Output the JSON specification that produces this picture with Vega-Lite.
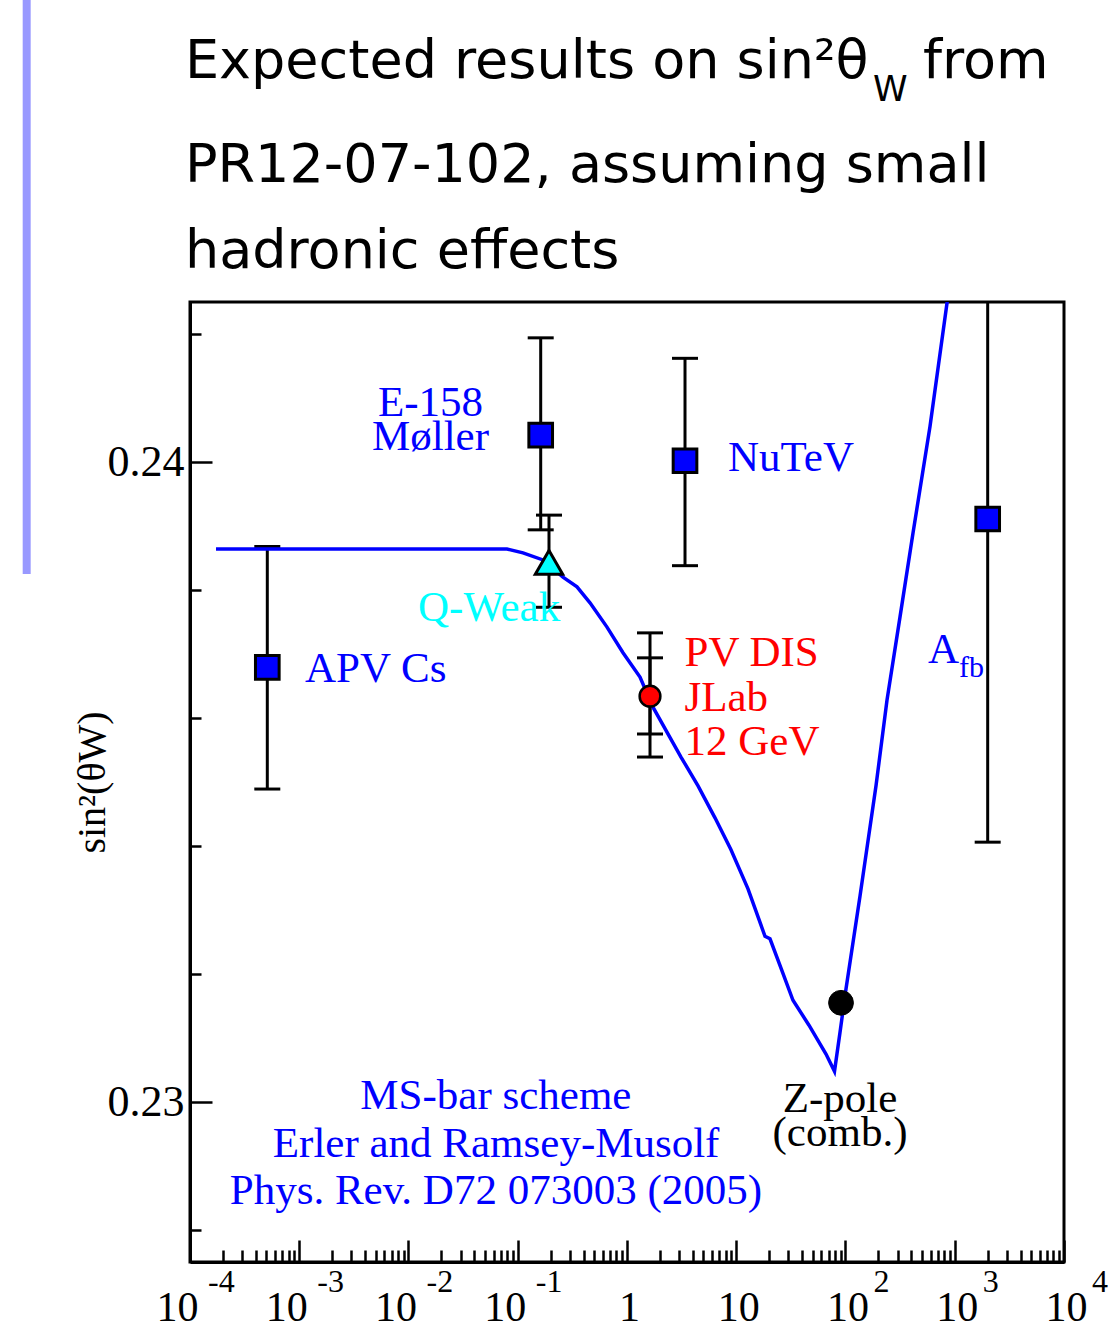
{
  "$schema": "https://vega.github.io/schema/vega-lite/v6.json",
  "width": 874,
  "height": 960,
  "autosize": {"type": "none"},
  "padding": {"left": 190, "top": 302, "right": 52, "bottom": 71},
  "background": "white",
  "config": {"view": {"stroke": "black", "strokeWidth": 3}},
  "encoding": {
    "x": {
      "field": "q", "type": "quantitative",
      "scale": {"type": "log", "domain": [0.0001, 10000], "nice": false},
      "axis": {
        "values": [0.0001,0.0002,0.0003,0.0004,0.0005,0.0006,0.0007,0.0008,0.0009,0.001,0.002,0.003,0.004,0.005,0.006,0.007,0.008,0.009,0.01,0.02,0.03,0.04,0.05,0.06,0.07,0.08,0.09,0.1,0.2,0.3,0.4,0.5,0.6,0.7,0.8,0.9,1,2,3,4,5,6,7,8,9,10,20,30,40,50,60,70,80,90,100,200,300,400,500,600,700,800,900,1000,2000,3000,4000,5000,6000,7000,8000,9000,10000],
        "labelExpr": "abs(log(datum.value)/LN10 - round(log(datum.value)/LN10)) < 0.000001 ? (abs(datum.value - 1) < 0.000001 ? '1' : '10') : ''",
        "tickSize": {"condition": {"test": "abs(log(datum.value)/LN10 - round(log(datum.value)/LN10)) < 0.000001", "value": -22}, "value": -12},
        "labelOffset": {"condition": {"test": "datum.value < 0.5", "value": -13}, "value": 2},
        "labelFont": "Liberation Serif", "labelFontSize": 42, "labelColor": "black",
        "labelPadding": 47, "labelBaseline": "top", "labelAngle": 0,
        "labelOverlap": false, "labelFlush": false, "labelBound": false,
        "tickColor": "black", "tickWidth": 2.5, "domainColor": "black", "domainWidth": 3,
        "grid": false, "title": null
      }
    },
    "y": {
      "field": "s", "type": "quantitative",
      "scale": {"domain": [0.2275, 0.2425], "nice": false, "zero": false},
      "axis": {
        "values": [0.228, 0.23, 0.232, 0.234, 0.236, 0.238, 0.24, 0.242],
        "labelExpr": "abs(datum.value - 0.23) < 0.000001 ? '0.23' : (abs(datum.value - 0.24) < 0.000001 ? '0.24' : '')",
        "tickSize": {"condition": {"test": "abs(datum.value - 0.23) < 0.000001 || abs(datum.value - 0.24) < 0.000001", "value": -22}, "value": -11},
        "labelFont": "Liberation Serif", "labelFontSize": 44, "labelColor": "black",
        "labelPadding": 28, "labelOverlap": false, "labelBound": false, "labelFlush": false,
        "tickColor": "black", "tickWidth": 2.5, "domainColor": "black", "domainWidth": 3,
        "grid": false,
        "title": "sin²(θW)", "titleFont": "Liberation Serif", "titleFontSize": 40,
        "titleFontWeight": "normal", "titleColor": "black", "titlePadding": -5
      }
    }
  },
  "layer": [
    {
      "data": {"values": [{"q": 0.0000032, "s": 0.24722, "s2": 0.23825}]},
      "mark": {"type": "rule", "color": "#9999ff", "strokeWidth": 8},
      "encoding": {"y2": {"field": "s2"}}
    },
    {
      "data": {"values": [
        {"name": "APV Cs", "q": 0.00051, "s": 0.23489, "s2": 0.23868},
        {"name": "E-158", "q": 0.1622, "s": 0.23894, "s2": 0.24194},
        {"name": "Q-Weak", "q": 0.1932, "s": 0.23773, "s2": 0.23917},
        {"name": "NuTeV", "q": 3.396, "s": 0.23838, "s2": 0.24162},
        {"name": "PV DIS outer", "q": 1.624, "s": 0.23539, "s2": 0.23733},
        {"name": "PV DIS inner", "q": 1.624, "s": 0.23575, "s2": 0.23694},
        {"name": "Afb", "q": 2002, "s": 0.23406, "s2": 0.24416}
      ]},
      "layer": [
        {
          "mark": {"type": "rule", "color": "black", "strokeWidth": 3, "clip": true},
          "encoding": {"y2": {"field": "s2"}}
        },
        {
          "transform": [{"fold": ["s", "s2"], "as": ["end", "s"]}],
          "mark": {"type": "tick", "orient": "horizontal", "size": 26, "thickness": 3, "color": "black", "opacity": 1, "clip": true}
        }
      ]
    },
    {
      "data": {"values": [
        {"q": 0.000173, "s": 0.23864}, {"q": 0.0797, "s": 0.23864}, {"q": 0.1117, "s": 0.23858},
        {"q": 0.1702, "s": 0.23847}, {"q": 0.2594, "s": 0.2382}, {"q": 0.3485, "s": 0.23805},
        {"q": 0.4585, "s": 0.2378}, {"q": 0.6561, "s": 0.23742}, {"q": 0.9192, "s": 0.23702},
        {"q": 1.315, "s": 0.23664}, {"q": 1.729, "s": 0.23617}, {"q": 3.12, "s": 0.23539},
        {"q": 4.47, "s": 0.23494}, {"q": 6.39, "s": 0.23444}, {"q": 8.95, "s": 0.23394},
        {"q": 12.81, "s": 0.23333}, {"q": 18.33, "s": 0.23259}, {"q": 20.37, "s": 0.23255},
        {"q": 26.24, "s": 0.23205}, {"q": 33.05, "s": 0.23159}, {"q": 46.3, "s": 0.2312},
        {"q": 66.3, "s": 0.23075}, {"q": 79.3, "s": 0.23048}, {"q": 89.1, "s": 0.23109},
        {"q": 101.1, "s": 0.23177}, {"q": 135.8, "s": 0.23322}, {"q": 190.2, "s": 0.23494},
        {"q": 239.9, "s": 0.23628}, {"q": 315.5, "s": 0.23758}, {"q": 414.9, "s": 0.23889},
        {"q": 593, "s": 0.24055}, {"q": 849, "s": 0.24248}, {"q": 1005, "s": 0.24339}
      ]},
      "mark": {"type": "line", "color": "#0000ff", "strokeWidth": 3.5, "clip": true}
    },
    {
      "data": {"values": [
        {"name": "APV Cs", "q": 0.00051, "s": 0.23679},
        {"name": "E-158", "q": 0.1622, "s": 0.24042},
        {"name": "NuTeV", "q": 3.396, "s": 0.24002},
        {"name": "Afb", "q": 2002, "s": 0.23911}
      ]},
      "mark": {"type": "point", "shape": "square", "filled": true, "fill": "#0000ff", "stroke": "black", "strokeWidth": 3, "size": 560, "opacity": 1}
    },
    {
      "data": {"values": [{"name": "Q-Weak", "q": 0.1932, "s": 0.23843}]},
      "mark": {"type": "point", "shape": "triangle-up", "filled": true, "fill": "#00ffff", "stroke": "black", "strokeWidth": 3, "size": 750, "opacity": 1}
    },
    {
      "data": {"values": [{"name": "PV DIS", "q": 1.624, "s": 0.23634}]},
      "mark": {"type": "point", "shape": "circle", "filled": true, "fill": "#ff0000", "stroke": "black", "strokeWidth": 2.5, "size": 430, "opacity": 1}
    },
    {
      "data": {"values": [{"name": "Z-pole", "q": 90.97, "s": 0.23155}]},
      "mark": {"type": "point", "shape": "circle", "filled": true, "fill": "black", "stroke": "black", "strokeWidth": 1, "size": 615, "opacity": 1}
    },
    {
      "data": {"values": [
        {"label": "E-158", "q": 0.0159, "s": 0.24072},
        {"label": "Møller", "q": 0.0159, "s": 0.24019},
        {"label": "MS-bar scheme", "q": 0.0631, "s": 0.22989},
        {"label": "Erler and Ramsey-Musolf", "q": 0.0634, "s": 0.22914},
        {"label": "Phys. Rev. D72 073003 (2005)", "q": 0.0631, "s": 0.22841}
      ]},
      "mark": {"type": "text", "align": "center", "baseline": "alphabetic", "font": "Liberation Serif", "fontSize": 43, "color": "#0000ff"},
      "encoding": {"text": {"field": "label"}}
    },
    {
      "data": {"values": [
        {"label": "NuTeV", "q": 8.4, "s": 0.23986},
        {"label": "APV Cs", "q": 0.001129, "s": 0.23656},
        {"label": "A", "q": 569.1, "s": 0.23686}
      ]},
      "mark": {"type": "text", "align": "left", "baseline": "alphabetic", "font": "Liberation Serif", "fontSize": 43, "color": "#0000ff"},
      "encoding": {"text": {"field": "label"}}
    },
    {
      "data": {"values": [{"label": "fb", "q": 1094, "s": 0.23664}]},
      "mark": {"type": "text", "align": "left", "baseline": "alphabetic", "font": "Liberation Serif", "fontSize": 30, "color": "#0000ff"},
      "encoding": {"text": {"field": "label"}}
    },
    {
      "data": {"values": [{"label": "Q-Weak", "q": 0.01222, "s": 0.23752}]},
      "mark": {"type": "text", "align": "left", "baseline": "alphabetic", "font": "Liberation Serif", "fontSize": 43, "color": "#00ffff"},
      "encoding": {"text": {"field": "label"}}
    },
    {
      "data": {"values": [
        {"label": "PV DIS", "q": 3.36, "s": 0.23681},
        {"label": "JLab", "q": 3.36, "s": 0.23611},
        {"label": "12 GeV", "q": 3.36, "s": 0.23542}
      ]},
      "mark": {"type": "text", "align": "left", "baseline": "alphabetic", "font": "Liberation Serif", "fontSize": 43, "color": "#ff0000"},
      "encoding": {"text": {"field": "label"}}
    },
    {
      "data": {"values": [
        {"label": "Z-pole", "q": 89.07, "s": 0.22984},
        {"label": "(comb.)", "q": 89.07, "s": 0.22931}
      ]},
      "mark": {"type": "text", "align": "center", "baseline": "alphabetic", "font": "Liberation Serif", "fontSize": 43, "color": "black"},
      "encoding": {"text": {"field": "label"}}
    },
    {
      "data": {"values": [
        {"label": "Expected results on sin²θ", "q": 0.00009, "s": 0.246},
        {"label": "from", "q": 512.2, "s": 0.246},
        {"label": "PR12-07-102, assuming small", "q": 0.00009, "s": 0.244375},
        {"label": "hadronic effects", "q": 0.00009, "s": 0.243031}
      ]},
      "mark": {"type": "text", "align": "left", "baseline": "alphabetic", "font": "DejaVu Sans", "fontSize": 54, "color": "black"},
      "encoding": {"text": {"field": "label"}}
    },
    {
      "data": {"values": [{"label": "W", "q": 178.5, "s": 0.24564}]},
      "mark": {"type": "text", "align": "left", "baseline": "alphabetic", "font": "DejaVu Sans", "fontSize": 35, "color": "black"},
      "encoding": {"text": {"field": "label"}}
    },
    {
      "data": {"values": [
        {"label": "-4", "q": 0.0001, "s": 0.22703},
        {"label": "-3", "q": 0.001, "s": 0.22703},
        {"label": "-2", "q": 0.01, "s": 0.22703},
        {"label": "-1", "q": 0.1, "s": 0.22703}
      ]},
      "mark": {"type": "text", "align": "left", "baseline": "alphabetic", "dx": 18, "font": "Liberation Serif", "fontSize": 32, "color": "black"},
      "encoding": {"text": {"field": "label"}}
    },
    {
      "data": {"values": [
        {"label": "2", "q": 100, "s": 0.22703},
        {"label": "3", "q": 1000, "s": 0.22703},
        {"label": "4", "q": 10000, "s": 0.22703}
      ]},
      "mark": {"type": "text", "align": "left", "baseline": "alphabetic", "dx": 28, "font": "Liberation Serif", "fontSize": 32, "color": "black"},
      "encoding": {"text": {"field": "label"}}
    }
  ]
}
